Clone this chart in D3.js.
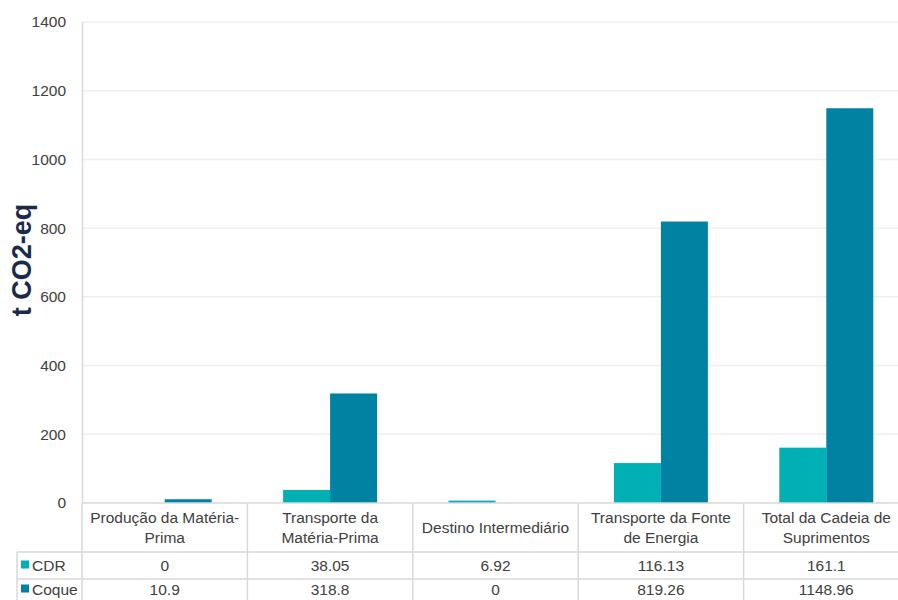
<!DOCTYPE html>
<html><head><meta charset="utf-8">
<script src="https://cdn.jsdelivr.net/npm/d3@7"></script>
<style>body{margin:0;background:#fff}svg{display:block;font-family:"Liberation Sans",Arial,sans-serif}</style>
</head><body><svg id="c" width="898" height="600"></svg>
<script>
const categories = ["Produção da Matéria-\nPrima","Transporte da\nMatéria-Prima","Destino Intermediário","Transporte da Fonte\nde Energia","Total da Cadeia de\nSuprimentos"];
const seriesNames = ["CDR","Coque"];
const cdrValues = [0,38.05,6.92,116.13,161.1];
const coqueValues = [10.9,318.8,0,819.26,1148.96];
const cdrLabels = ["0","38.05","6.92","116.13","161.1"];
const coqueLabels = ["10.9","318.8","0","819.26","1148.96"];
const yTicks = [0,200,400,600,800,1000,1200,1400];
const colors = ["#00b0b4","#0083a3"];

const svg = d3.select("#c");
const L = 82, R = 909, T = 22, B = 503;
const x = d3.scaleBand().domain(d3.range(categories.length)).range([L,R]).paddingInner(0).paddingOuter(0);
const xs = d3.scaleBand().domain(seriesNames).range([0,x.bandwidth()]).paddingInner(0).paddingOuter(0.76);
const y = d3.scaleLinear().domain([0,1400]).range([B,T]);

// grid
svg.append("g").selectAll("line").data(yTicks.filter(d=>d>0)).join("line")
  .attr("x1",L).attr("x2",R).attr("y1",d=>y(d)).attr("y2",d=>y(d))
  .attr("stroke","#f0f0f0").attr("stroke-width",1.5);

// y axis
const ya = svg.append("g").attr("transform",`translate(${L},0)`)
  .call(d3.axisLeft(y).tickValues(yTicks).tickSize(0).tickPadding(16).tickFormat(d3.format("d")));
ya.select(".domain").attr("stroke","#d9d9d9").attr("stroke-width",1.5);
ya.selectAll("text").attr("font-size",15.5).attr("fill","#404040").attr("font-family","Liberation Sans, Arial, sans-serif");

// bars
const series = [cdrValues, coqueValues];
series.forEach((vals,si)=>{
  svg.append("g").selectAll("rect").data(vals).join("rect")
    .attr("x",(d,i)=>x(i)+xs(seriesNames[si]))
    .attr("width",xs.bandwidth())
    .attr("y",d=>y(d))
    .attr("height",d=>B-y(d))
    .attr("fill",colors[si]);
});

// table
const tbl = svg.append("g");
const rowH1 = 552, rowH2 = 579, rowEnd = 606, tLeft = 17;
const lineC = "#d9d9d9";
tbl.append("line").attr("x1",L).attr("x2",R).attr("y1",B).attr("y2",B).attr("stroke",lineC).attr("stroke-width",1.5);
[rowH1,rowH2].forEach(yy=>tbl.append("line").attr("x1",tLeft).attr("x2",R).attr("y1",yy).attr("y2",yy).attr("stroke",lineC).attr("stroke-width",1.5));
tbl.append("line").attr("x1",tLeft).attr("x2",tLeft).attr("y1",rowH1).attr("y2",rowEnd).attr("stroke",lineC).attr("stroke-width",1.5);
d3.range(categories.length+1).forEach(i=>{
  const xx = i<categories.length ? x(i) : R;
  tbl.append("line").attr("x1",xx).attr("x2",xx).attr("y1",B).attr("y2",rowEnd).attr("stroke",lineC).attr("stroke-width",1.5);
});
categories.forEach((c,i)=>{
  const lines = c.split("\n");
  const cx = x(i)+x.bandwidth()/2;
  const cy = (B+rowH1)/2;
  const t = tbl.append("text").attr("text-anchor","middle").attr("font-size",15.5).attr("fill","#404040");
  lines.forEach((ln,j)=>{
    t.append("tspan").attr("x",cx).attr("y",cy + (j-(lines.length-1)/2)*19.5 + 5.5).text(ln);
  });
});
[cdrLabels,coqueLabels].forEach((labs,si)=>{
  const r0 = si===0?rowH1:rowH2, r1 = si===0?rowH2:rowEnd-6;
  const cy = (r0+r1)/2+5.5;
  labs.forEach((lb,i)=>{
    tbl.append("text").attr("x",x(i)+x.bandwidth()/2).attr("y",cy).attr("text-anchor","middle")
      .attr("font-size",15.5).attr("fill","#404040").text(lb);
  });
  tbl.append("rect").attr("x",21).attr("y",cy-10.5).attr("width",8).attr("height",8).attr("fill",colors[si]);
  tbl.append("text").attr("x",32).attr("y",cy).attr("font-size",15.5).attr("fill","#404040").text(seriesNames[si]);
});

// y title
svg.append("text").attr("transform","translate(31,260) rotate(-90)").attr("text-anchor","middle")
  .attr("font-size",27).attr("font-weight","bold").attr("fill","#1a2b4a").text("t CO2-eq");
</script></body></html>
